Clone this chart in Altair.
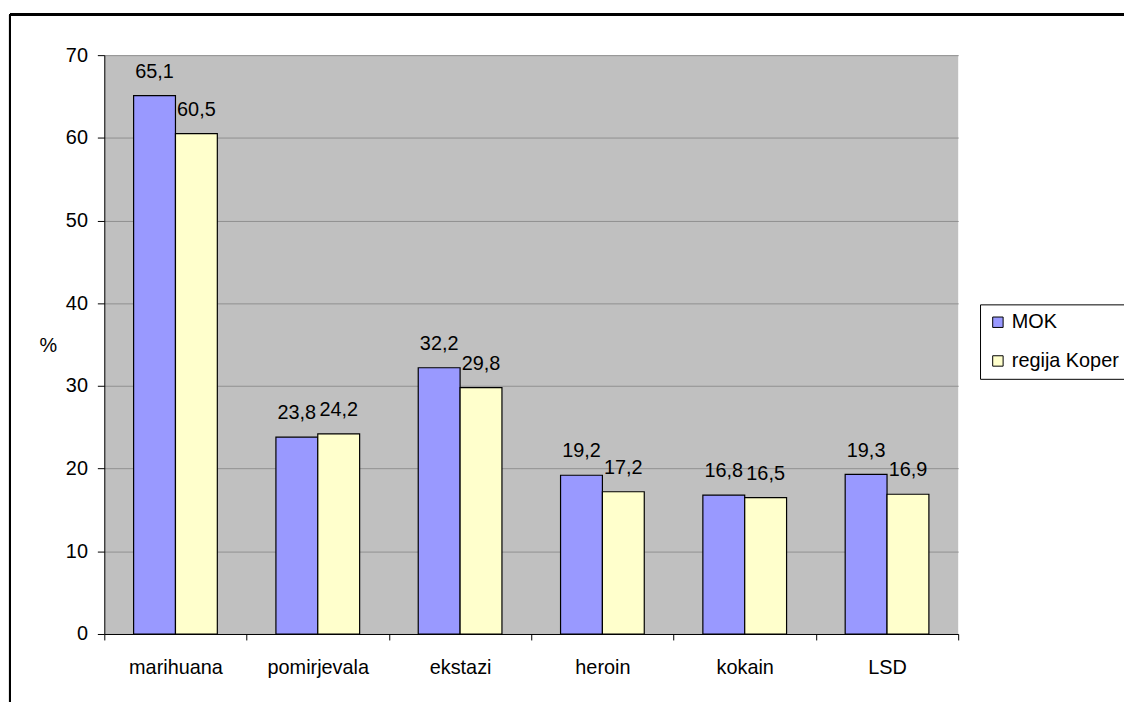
import altair as alt
import pandas as pd

categories = ["marihuana", "pomirjevala", "ekstazi", "heroin", "kokain", "LSD"]
series = ["MOK", "regija Koper"]
mok = [65.1, 23.8, 32.2, 19.2, 16.8, 19.3]
koper = [60.5, 24.2, 29.8, 17.2, 16.5, 16.9]
colors = ["#9999FF", "#FFFFCC"]
y_ticks = [0, 10, 20, 30, 40, 50, 60, 70]

rows = []
for i, c in enumerate(categories):
    rows.append({"cat": c, "series": series[0], "value": mok[i]})
    rows.append({"cat": c, "series": series[1], "value": koper[i]})
df = pd.DataFrame(rows)

FONT = "Liberation Sans"
FS = 20
W, H = 860, 583

x_enc = alt.X("cat:N", sort=categories, title=None,
              scale=alt.Scale(paddingInner=0, paddingOuter=0),
              axis=alt.Axis(labelAngle=0, tickBand="extent", tickSize=6,
                            labelPadding=18, domainColor="black", tickColor="black",
                            labelFontSize=FS, labelColor="black", labelFont=FONT))
xo_enc = alt.XOffset("series:N", sort=series,
                     scale=alt.Scale(paddingInner=0, paddingOuter=0.7))
y_enc = alt.Y("value:Q", title="%",
              scale=alt.Scale(domain=[0, 70], nice=False),
              axis=alt.Axis(values=y_ticks, tickSize=7, labelPadding=10,
                            domainColor="black", tickColor="black",
                            gridColor="#909090", gridWidth=1,
                            labelFontSize=FS, labelColor="black", labelFont=FONT,
                            titleAngle=0, titleX=-57, titleY=292,
                            titleAlign="center", titleBaseline="middle",
                            titleFontSize=FS, titleFontWeight="normal",
                            titleFont=FONT, titleColor="black"))

bars = alt.Chart(df).mark_bar(stroke="black", strokeWidth=1.2).encode(
    x=x_enc, xOffset=xo_enc, y=y_enc,
    color=alt.Color("series:N", sort=series,
                    scale=alt.Scale(domain=series, range=colors),
                    legend=alt.Legend(title=None, orient="none",
                                      legendX=882, legendY=251,
                                      symbolType="square", symbolSize=110,
                                      symbolStrokeColor="black", symbolStrokeWidth=1,
                                      labelFontSize=FS, labelFont=FONT,
                                      labelColor="black", rowPadding=19,
                                      padding=8, strokeColor="black",
                                      fillColor="white", labelOffset=4)),
)

labels = alt.Chart(df).mark_text(
    dy=-18, baseline="alphabetic", align="center", fontSize=FS, font=FONT, color="black"
).transform_calculate(
    lbl="replace(format(datum.value, '.1f'), '.', ',')"
).encode(x=alt.X("cat:N", sort=categories), xOffset=alt.XOffset("series:N", sort=series),
         y="value:Q", text="lbl:N")

border_top = alt.Chart(df).mark_rule(color="black", strokeWidth=2).encode(
    x=alt.value(-95), x2=alt.value(1200), y=alt.value(-41))
border_left = alt.Chart(df).mark_rule(color="black", strokeWidth=2).encode(
    x=alt.value(-95), y=alt.value(-41), y2=alt.value(800))

chart = alt.layer(bars, labels, border_top, border_left).properties(
    width=W, height=H,
    padding={"left": 97, "top": 45, "right": 167, "bottom": 66},
    autosize=alt.AutoSizeParams(type="none"),
    background="white",
).configure_view(fill="#C0C0C0", strokeWidth=0)

chart.save("out.html", embed_options={"renderer": "svg", "actions": False})
